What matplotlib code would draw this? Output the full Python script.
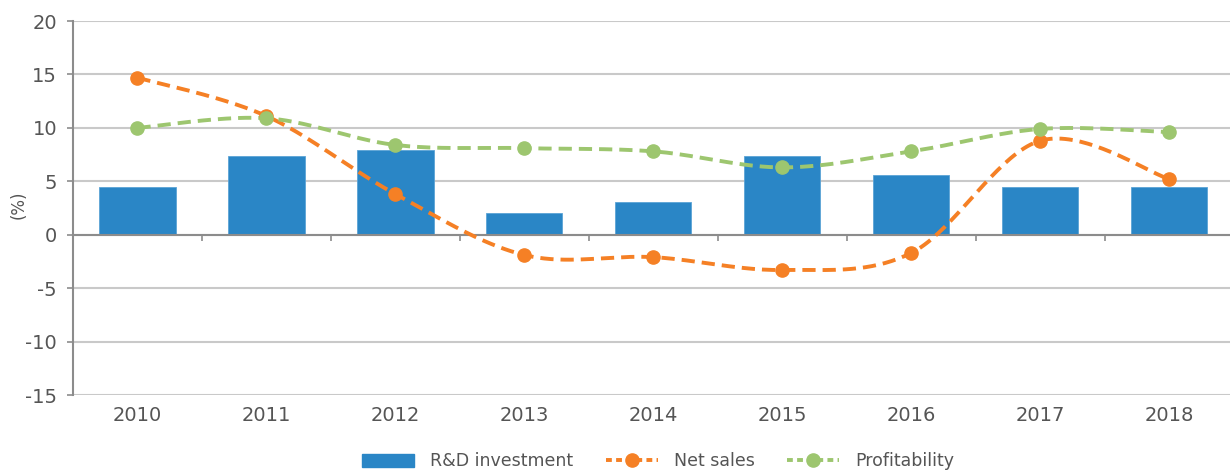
import numpy as np
import matplotlib
matplotlib.use("Agg")
import matplotlib.pyplot as plt
from matplotlib.lines import Line2D
from matplotlib.patches import Patch

years = ["2010", "2011", "2012", "2013", "2014", "2015", "2016", "2017", "2018"]
rd_investment = [4.5, 7.4, 7.9, 2.0, 3.1, 7.4, 5.6, 4.5, 4.5]
net_sales = [14.7, 11.1, 3.8, -1.9, -2.1, -3.3, -1.7, 8.8, 5.2]
profitability = [10.0, 10.9, 8.4, 8.1, 7.8, 6.3, 7.8, 9.9, 9.6]

blue = "#2A86C6"
orange = "#F58025"
green = "#9DC66F"
grid_c = "#C9C9C9"
axis_c = "#8C8C8C"
text_c = "#555555"

plt.rcParams["font.family"] = "DejaVu Sans"
plt.rcParams["axes.unicode_minus"] = False


def smooth(x, y, n=40):
    # excel-like smoothed line (catmull-rom bezier, tension 1/6)
    p = np.column_stack([x, y]).astype(float)
    ext = np.vstack([p[0], p, p[-1]])
    out = []
    t = np.linspace(0, 1, n)[:, None]
    for i in range(len(p) - 1):
        p0, p3 = ext[i + 1], ext[i + 2]
        c1 = p0 + (ext[i + 2] - ext[i]) / 6
        c2 = p3 - (ext[i + 3] - ext[i + 1]) / 6
        seg = (1 - t) ** 3 * p0 + 3 * (1 - t) ** 2 * t * c1 + 3 * (1 - t) * t ** 2 * c2 + t ** 3 * p3
        out.append(seg if i == 0 else seg[1:])
    out = np.vstack(out)
    return out[:, 0], out[:, 1]


x = np.arange(len(years))
fig = plt.figure(figsize=(12.3, 4.73), dpi=100)
ax = fig.add_axes([73 / 1230, 1 - 395 / 473, 1157 / 1230, 374 / 473])

ax.set_ylim(-15, 20)
ax.set_xlim(-0.5, 8.47)
ax.set_yticks(range(-15, 21, 5))
ax.grid(axis="y", color=grid_c, linewidth=1.5, zorder=0)
ax.set_axisbelow(True)

ax.bar(x, rd_investment, width=0.59, color=blue, edgecolor="#5BA3D6", linewidth=0.6, zorder=2)

for vals, col in [(net_sales, orange), (profitability, green)]:
    sx, sy = smooth(x, vals)
    ax.plot(sx, sy, color=col, linewidth=2.8, dashes=(3.4, 1.8), zorder=3)
    ax.plot(x, vals, "o", color=col, markersize=9.5, zorder=4)

for s in ["top", "right"]:
    ax.spines[s].set_visible(False)
ax.spines["left"].set_color(axis_c)
ax.spines["left"].set_linewidth(1.5)
ax.spines["bottom"].set_position(("data", 0))
ax.spines["bottom"].set_color(axis_c)
ax.spines["bottom"].set_linewidth(1.5)

ax.set_xticks([])
ax.set_xticks(np.arange(0.5, 8, 1), minor=True)
ax.tick_params(axis="x", which="minor", length=4, width=1.2, color=axis_c, direction="out")
ax.tick_params(axis="y", length=4.5, width=1.2, color=axis_c, labelsize=14, labelcolor=text_c, pad=7)

sec = ax.secondary_xaxis(0)
sec.set_xticks(x)
sec.set_xticklabels(years)
sec.tick_params(length=0, labelsize=14, labelcolor=text_c, pad=8)
sec.spines["bottom"].set_visible(False)

ax.set_ylabel("(%)", fontsize=12, color=text_c)
ax.yaxis.set_label_coords(-0.039, 0.508)

handles = [
    Patch(facecolor=blue, edgecolor=blue),
    Line2D([], [], color=orange, linewidth=2.8, dashes=(1.5, 1.1), marker="o", markersize=9.5),
    Line2D([], [], color=green, linewidth=2.8, dashes=(1.5, 1.1), marker="o", markersize=9.5),
]
fig.legend(handles, ["R&D investment", "Net sales", "Profitability"],
           loc="center", bbox_to_anchor=(0.535, 0.025), ncol=3, frameon=False,
           fontsize=12.5, labelcolor=text_c, handlelength=3.0, handleheight=0.8,
           columnspacing=1.9, handletextpad=0.9)

fig.savefig("out.png", dpi=100)
